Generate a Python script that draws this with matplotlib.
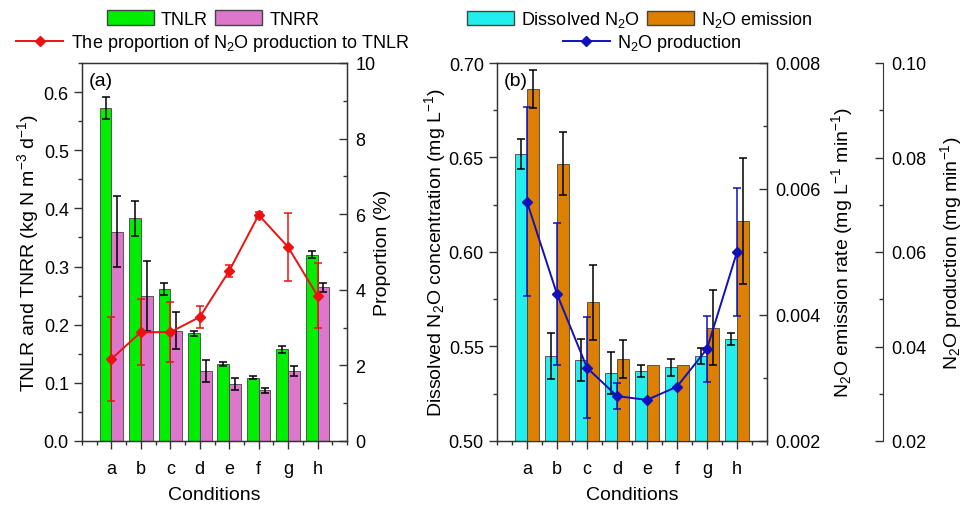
import matplotlib
matplotlib.use('Agg')
import matplotlib.pyplot as plt
import numpy as np
from matplotlib.ticker import MultipleLocator, FormatStrFormatter
from matplotlib.patches import Patch
from matplotlib.lines import Line2D

plt.rcParams['font.family'] = ['Liberation Sans', 'DejaVu Sans']
plt.rcParams['mathtext.fontset'] = 'custom'
plt.rcParams['mathtext.rm'] = 'Liberation Sans'
plt.rcParams['mathtext.it'] = 'Liberation Sans:italic'
plt.rcParams['font.size'] = 13

conditions = ['a', 'b', 'c', 'd', 'e', 'f', 'g', 'h']

# (a) 负荷与比例
tnlr = [0.573, 0.383, 0.261, 0.185, 0.132, 0.109, 0.158, 0.320]
tnlr_err = [0.019, 0.030, 0.010, 0.005, 0.003, 0.002, 0.006, 0.006]
tnrr = [0.360, 0.250, 0.190, 0.120, 0.098, 0.087, 0.120, 0.264]
tnrr_err = [0.061, 0.060, 0.031, 0.019, 0.010, 0.004, 0.009, 0.007]
proportion = [2.17, 2.88, 2.88, 3.28, 4.50, 5.98, 5.13, 3.84]
proportion_err = [1.10, 0.87, 0.80, 0.30, 0.16, 0.08, 0.90, 0.86]

# (b) N2O
dissolved = [0.652, 0.545, 0.543, 0.536, 0.537, 0.539, 0.545, 0.554]
dissolved_err = [0.008, 0.012, 0.011, 0.011, 0.003, 0.0044, 0.004, 0.003]
emission = [0.00759, 0.0064, 0.0042, 0.0033, 0.0032, 0.0032, 0.0038, 0.00549]
emission_err = [0.0003, 0.0005, 0.0006, 0.0003, 0, 0, 0.0006, 0.001]
production = [0.0706, 0.0511, 0.0355, 0.0295, 0.0287, 0.0315, 0.0395, 0.0600]
production_err = [0.020, 0.015, 0.0107, 0.0028, 0, 0, 0.007, 0.0135]

c_green = '#00EE00'
c_pink = '#DD77CC'
c_cyan = '#22EEEE'
c_orange = '#DD7F00'
c_red = '#EE1111'
c_blue = '#1111BB'
c_axis = '#333333'

x = np.arange(1, len(conditions) + 1)
w = 0.4
ekw = dict(ecolor='black', elinewidth=1.1, capsize=3, capthick=1.1)


def style_axes(ax):
    for s in ax.spines.values():
        s.set_color(c_axis)
        s.set_linewidth(1.0)
    ax.set_xlim(0, 9)
    ax.set_xticks(x)
    ax.set_xticklabels(conditions)
    ax.xaxis.set_minor_locator(MultipleLocator(0.5))
    ax.tick_params(axis='both', which='major', length=6, width=1, color=c_axis, direction='out')
    ax.tick_params(axis='both', which='minor', length=3, width=1, color=c_axis, direction='out')
    ax.tick_params(axis='x', pad=8)


def style_right(ax):
    ax.tick_params(axis='y', which='major', length=6, width=1, color=c_axis, direction='in', pad=6)
    ax.tick_params(axis='y', which='minor', length=3, width=1, color=c_axis, direction='in')


fig = plt.figure(figsize=(9.63, 5.06), dpi=100)

# ---------- (a)
axa = fig.add_axes([82 / 963, 64 / 506, 265 / 963, 378 / 506])
style_axes(axa)
axa.bar(x - w / 2, tnlr, w, color=c_green, edgecolor='#444444', linewidth=0.6)
axa.bar(x + w / 2, tnrr, w, color=c_pink, edgecolor='#444444', linewidth=0.6)
axa.errorbar(x - w / 2, tnlr, yerr=tnlr_err, fmt='none', **ekw)
axa.errorbar(x + w / 2, tnrr, yerr=tnrr_err, fmt='none', **ekw)
axa.set_ylim(0, 0.65)
axa.yaxis.set_major_locator(MultipleLocator(0.1))
axa.yaxis.set_minor_locator(MultipleLocator(0.05))
axa.yaxis.set_major_formatter(FormatStrFormatter('%.1f'))
axa.set_ylabel('TNLR and TNRR (kg N m$^{-3}$ d$^{-1}$)', fontsize=14)
axa.yaxis.set_label_coords(-0.155, 0.5)
axa.set_xlabel('Conditions', fontsize=14)
axa.xaxis.set_label_coords(0.5, -0.12)
axa.text(0.025, 0.975, '(a)', transform=axa.transAxes, ha='left', va='top', fontsize=14)

axa2 = axa.twinx()
axa2.set_ylim(0, 10)
axa2.yaxis.set_major_locator(MultipleLocator(2))
axa2.yaxis.set_minor_locator(MultipleLocator(1))
style_right(axa2)
for s in axa2.spines.values():
    s.set_color(c_axis)
axa2.errorbar(x, proportion, yerr=proportion_err, color=c_red, marker='D', markersize=5,
              linewidth=1.4, elinewidth=1.1, capsize=3, capthick=1.1)
axa2.set_ylabel('Proportion (%)', fontsize=14)
axa2.yaxis.set_label_coords(1.10, 0.5)

# ---------- (b)
axb = fig.add_axes([497 / 963, 64 / 506, 270 / 963, 378 / 506])
style_axes(axb)
axb.bar(x - w / 2, dissolved, w, color=c_cyan, edgecolor='#444444', linewidth=0.6)
axb.errorbar(x - w / 2, dissolved, yerr=dissolved_err, fmt='none', **ekw)
axb.set_ylim(0.5, 0.7)
axb.yaxis.set_major_locator(MultipleLocator(0.05))
axb.yaxis.set_minor_locator(MultipleLocator(0.025))
axb.yaxis.set_major_formatter(FormatStrFormatter('%.2f'))
axb.set_ylabel('Dissolved N$_2$O concentration (mg L$^{-1}$)', fontsize=14)
axb.yaxis.set_label_coords(-0.18, 0.5)
axb.set_xlabel('Conditions', fontsize=14)
axb.xaxis.set_label_coords(0.5, -0.12)
axb.text(0.025, 0.975, '(b)', transform=axb.transAxes, ha='left', va='top', fontsize=14)

axb2 = axb.twinx()
axb2.set_ylim(0.002, 0.008)
axb2.yaxis.set_major_locator(MultipleLocator(0.002))
axb2.yaxis.set_minor_locator(MultipleLocator(0.001))
axb2.yaxis.set_major_formatter(FormatStrFormatter('%.3f'))
style_right(axb2)
for s in axb2.spines.values():
    s.set_color(c_axis)
axb2.bar(x + w / 2, emission, w, bottom=0, color=c_orange, edgecolor='#444444', linewidth=0.6)
em = np.array(emission_err) > 0
axb2.errorbar((x + w / 2)[em], np.array(emission)[em], yerr=np.array(emission_err)[em],
              fmt='none', **ekw)
axb2.set_ylabel('N$_2$O emission rate (mg L$^{-1}$ min$^{-1}$)', fontsize=14)
axb2.yaxis.set_label_coords(1.23, 0.5)

axb3 = axb.twinx()
axb3.spines['right'].set_position(('axes', 1.43))
for k in ['top', 'left', 'bottom']:
    axb3.spines[k].set_visible(False)
axb3.spines['right'].set_color(c_axis)
axb3.set_ylim(0.02, 0.10)
axb3.yaxis.set_major_locator(MultipleLocator(0.02))
axb3.yaxis.set_minor_locator(MultipleLocator(0.01))
axb3.yaxis.set_major_formatter(FormatStrFormatter('%.2f'))
style_right(axb3)
axb3.plot(x, production, color=c_blue, marker='D', markersize=5, linewidth=1.4)
pm = np.array(production_err) > 0
axb3.errorbar(x[pm], np.array(production)[pm], yerr=np.array(production_err)[pm],
              fmt='none', ecolor=c_blue, elinewidth=1.1, capsize=3, capthick=1.1)
axb3.set_ylabel('N$_2$O production (mg min$^{-1}$)', fontsize=14)
axb3.yaxis.set_label_coords(1.635, 0.5)

# ---------- legends
lkw = dict(frameon=False, loc='center', borderpad=0, handlelength=2.6, handleheight=0.85,
           handletextpad=0.4, columnspacing=0.4, fontsize=13)
fig.legend([Patch(facecolor=c_green, edgecolor='#444444'), Patch(facecolor=c_pink, edgecolor='#444444')],
           ['TNLR', 'TNRR'], ncol=2, bbox_to_anchor=(213 / 963, 1 - 20 / 506), **lkw)
fig.legend([Line2D([], [], color=c_red, marker='D', markersize=5, linewidth=1.4)],
           ['The proportion of N$_2$O production to TNLR'], bbox_to_anchor=(213 / 963, 1 - 44 / 506), **lkw)
fig.legend([Patch(facecolor=c_cyan, edgecolor='#444444'), Patch(facecolor=c_orange, edgecolor='#444444')],
           ['Dissolved N$_2$O', 'N$_2$O emission'], ncol=2, bbox_to_anchor=(640 / 963, 1 - 20 / 506), **lkw)
fig.legend([Line2D([], [], color=c_blue, marker='D', markersize=5, linewidth=1.4)],
           ['N$_2$O production'], bbox_to_anchor=(652 / 963, 1 - 44 / 506), **lkw)

fig.savefig('out.png', dpi=100)
